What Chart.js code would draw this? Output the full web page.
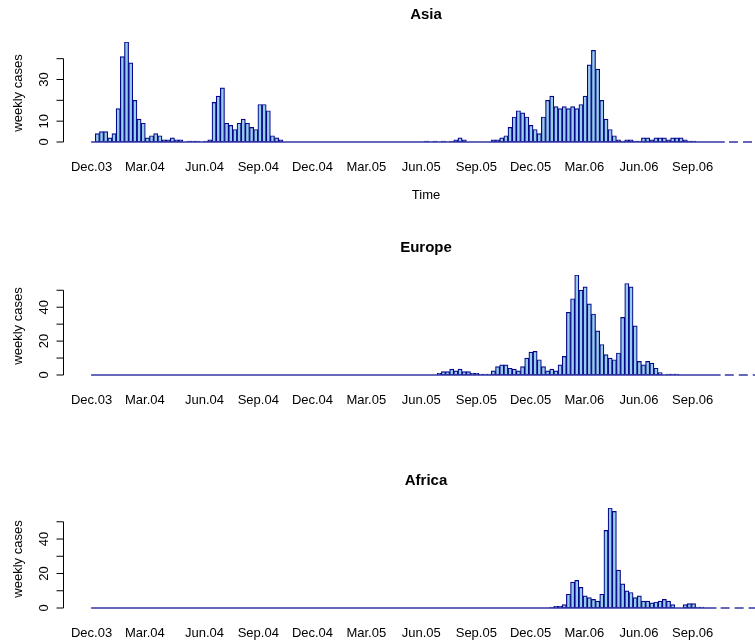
<!DOCTYPE html>
<html>
<head>
<meta charset="utf-8">
<script src="https://cdn.jsdelivr.net/npm/chart.js@4.4.0/dist/chart.umd.min.js"></script>
<style>
html, body { margin: 0; padding: 0; background: #fff; overflow: hidden; width: 755px; height: 641px; }
canvas { display: block; }
</style>
</head>
<body>
<canvas id="asia" width="790" height="233"></canvas>
<canvas id="europe" width="790" height="233"></canvas>
<canvas id="africa" width="790" height="233"></canvas>
<script>
// weekly case counts, one value per week starting Dec.03 (week 0)
const asiaCases = [
  0, 4, 5, 5, 2, 4, 16, 41, 48, 38, 20, 11, 9, 2, 3, 4, 3, 1, 1, 2, 1, 1,
  0, 0.5, 0.5, 0.5, 0, 0.5, 1,
  19, 22, 26, 9, 8, 6, 9, 11, 9, 7, 6, 18, 18, 15, 3, 2, 1,
  0, 0, 0, 0, 0, 0, 0, 0, 0, 0, 0, 0, 0, 0, 0, 0, 0,
  0, 0, 0, 0, 0, 0, 0, 0, 0, 0, 0, 0, 0, 0, 0, 0, 0,
  0.5, 0, 0.5, 0, 0.5, 0, 0.5, 1, 2, 1,
  0, 0, 0, 0, 0, 0,
  1, 1, 2, 3, 7, 12, 15, 14, 12, 8,
  6, 4, 12, 20, 22, 17, 16, 17, 16, 17,
  16, 18, 22, 37, 44, 35, 20, 11, 6, 3,
  1, 0.5, 1, 1, 0.5, 0.5,
  2, 2, 1, 2, 2, 2, 1, 2, 2, 2, 1, 0.5, 0.5,
  0, 0, 0, 0, 0, 0, 0
];
const europeCases = [
  0, 0, 0, 0, 0, 0, 0, 0, 0, 0, 0, 0, 0, 0, 0, 0, 0, 0, 0, 0,
  0, 0, 0, 0, 0, 0, 0, 0, 0, 0, 0, 0, 0, 0, 0, 0, 0, 0, 0, 0,
  0, 0, 0, 0, 0, 0, 0, 0, 0, 0, 0, 0, 0, 0, 0, 0, 0, 0, 0, 0,
  0, 0, 0, 0, 0, 0, 0, 0, 0, 0, 0, 0, 0, 0, 0, 0, 0, 0, 0, 0,
  0, 0, 0,
  1, 2, 2, 3.5, 2.5, 3.5, 2, 2, 1, 1,
  0.5, 0.5, 0.5, 2.5, 5, 6, 6, 4, 3.5, 2.5,
  5, 10, 13.5, 14, 9, 5, 2.5, 3.5, 2.5, 6,
  11, 37, 45, 59, 50, 52, 42, 36, 26, 18,
  12, 10, 9, 13, 34, 54, 52, 29, 8, 6,
  8, 7, 4, 1.5, 0, 0.5, 0.5, 0.5,
  0, 0, 0, 0, 0, 0, 0, 0, 0, 0
];
const africaCases = [
  0, 0, 0, 0, 0, 0, 0, 0, 0, 0, 0, 0, 0, 0, 0, 0, 0, 0, 0, 0,
  0, 0, 0, 0, 0, 0, 0, 0, 0, 0, 0, 0, 0, 0, 0, 0, 0, 0, 0, 0,
  0, 0, 0, 0, 0, 0, 0, 0, 0, 0, 0, 0, 0, 0, 0, 0, 0, 0, 0, 0,
  0, 0, 0, 0, 0, 0, 0, 0, 0, 0, 0, 0, 0, 0, 0, 0, 0, 0, 0, 0,
  0, 0, 0, 0, 0, 0, 0, 0, 0, 0, 0, 0, 0, 0, 0, 0, 0, 0, 0, 0,
  0, 0, 0, 0, 0, 0, 0, 0, 0, 0,
  0.5, 1, 1, 2, 8, 15, 16, 12, 7, 6,
  5, 4, 8, 45, 58, 56, 22, 14, 10, 9,
  6, 7, 4, 4, 3, 3.5, 4, 5, 4, 2,
  0, 0, 2, 2.5, 2.5, 0.5, 0.5,
  0, 0, 0
];

const tickLabels = ['Dec.03', 'Mar.04', 'Jun.04', 'Sep.04', 'Dec.04', 'Mar.05',
                    'Jun.05', 'Sep.05', 'Dec.05', 'Mar.06', 'Jun.06', 'Sep.06'];
const tickWeeks = [-0.4, 12.4, 26.7, 39.6, 52.6, 65.5, 78.7, 91.9, 104.9, 117.8, 130.9, 143.8];

const asiaTicks = [0, 10, 20, 30, 40];
const asiaTickLabels = ['0', '10', '', '30', ''];
const otherTicks = [0, 10, 20, 30, 40, 50];
const otherTickLabels = ['0', '', '20', '', '40', ''];

const xMin = -7.24, xMax = 166.9;
const fillColor = '#96cdea';
const edgeColor = '#06068a';
const baseColor = '#3434a6';
const font13 = '13px "Liberation Sans", Arial, sans-serif';

function rAxes(title, yTicks, yTickLabels, showTime) {
  return {
    id: 'rAxes',
    afterDatasetsDraw(chart) {
      const { ctx, chartArea: a, scales: { x, y } } = chart;
      const cx = (a.left + a.right) / 2;
      ctx.save();
      ctx.fillStyle = '#000';
      ctx.textAlign = 'center';
      ctx.textBaseline = 'middle';
      ctx.font = 'bold 15px "Liberation Sans", Arial, sans-serif';
      ctx.fillText(title, cx, 15);

      ctx.font = font13;
      tickLabels.forEach((t, i) => ctx.fillText(t, x.getPixelForValue(tickWeeks[i]), a.bottom + 25));
      if (showTime) ctx.fillText('Time', cx, a.bottom + 53);

      // y axis, R style: line only between first and last tick
      const ax = a.left + 0.5;
      ctx.strokeStyle = '#000';
      ctx.lineWidth = 1;
      ctx.beginPath();
      ctx.moveTo(ax, y.getPixelForValue(yTicks[0]));
      ctx.lineTo(ax, y.getPixelForValue(yTicks[yTicks.length - 1]));
      yTicks.forEach(v => {
        const py = y.getPixelForValue(v);
        ctx.moveTo(ax - 7, py);
        ctx.lineTo(ax, py);
      });
      ctx.stroke();

      yTicks.forEach((v, i) => {
        ctx.save();
        ctx.translate(a.left - 19, y.getPixelForValue(v));
        ctx.rotate(-Math.PI / 2);
        ctx.fillText(yTickLabels[i], 0, 0);
        ctx.restore();
      });

      ctx.save();
      ctx.translate(18, (a.top + a.bottom) / 2 + 1);
      ctx.rotate(-Math.PI / 2);
      ctx.fillText('weekly cases', 0, 0);
      ctx.restore();
      ctx.restore();
    }
  };
}

function drawPanel(id, title, cases, yTicks, yTickLabels, showTime) {
  new Chart(document.getElementById(id), {
    type: 'bar',
    data: {
      datasets: [
        {
          type: 'line',
          data: [{ x: -0.5, y: 0 }, { x: cases.length - 0.5, y: 0 }],
          borderColor: baseColor, borderWidth: 1.5, pointRadius: 0, order: 0, clip: false
        },
        {
          type: 'line',
          data: [{ x: cases.length + 0.5, y: 0 }, { x: xMax, y: 0 }],
          borderColor: baseColor, borderWidth: 1.5, borderDash: [9, 5], pointRadius: 0, order: 0, clip: false
        },
        {
          type: 'bar',
          data: cases.map((v, i) => ({ x: i, y: v })),
          backgroundColor: fillColor,
          borderColor: edgeColor,
          borderWidth: 1.2,
          borderSkipped: false,
          barPercentage: 1,
          categoryPercentage: 1,
          order: 1
        }
      ]
    },
    options: {
      responsive: false,
      animation: false,
      events: [],
      layout: { padding: { left: 63, right: 1, top: 42, bottom: 91 } },
      scales: {
        x: { type: 'linear', min: xMin, max: xMax, offset: false, display: false },
        y: { type: 'linear', min: 0, max: Math.max(...cases), display: false }
      },
      plugins: {
        legend: { display: false },
        title: { display: false },
        tooltip: { enabled: false }
      }
    },
    plugins: [rAxes(title, yTicks, yTickLabels, showTime)]
  });
}

drawPanel('asia', 'Asia', asiaCases, asiaTicks, asiaTickLabels, true);
drawPanel('europe', 'Europe', europeCases, otherTicks, otherTickLabels, false);
drawPanel('africa', 'Africa', africaCases, otherTicks, otherTickLabels, false);
</script>
</body>
</html>
